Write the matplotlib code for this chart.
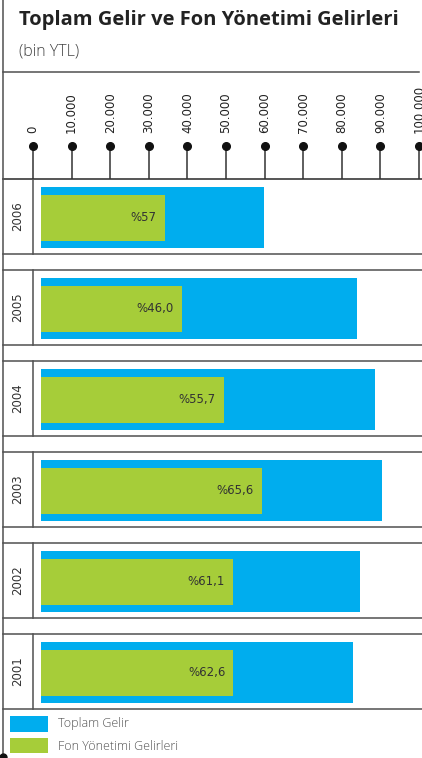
import numpy as np
import matplotlib
matplotlib.use("Agg")
import matplotlib.pyplot as plt
from matplotlib.patches import Rectangle

# data (bin YTL)
years = ["2006", "2005", "2004", "2003", "2002", "2001"]
toplam_gelir = [59800, 83900, 88600, 90400, 84700, 82900]
fon_gelirleri = [34100, 38600, 49400, 59300, 51800, 51900]
pct_labels = ["%57", "%46,0", "%55,7", "%65,6", "%61,1", "%62,6"]
tick_values = [0, 10000, 20000, 30000, 40000, 50000, 60000, 70000, 80000, 90000, 100000]

BLUE = "#00adee"
GREEN = "#a6cd39"
LINE = "#505050"

W, H = 422, 758
fig = plt.figure(figsize=(W / 100, H / 100), dpi=100)

# pixel frame for borders / separators
frame = fig.add_axes([0, 0, 1, 1])
frame.set_xlim(0, W)
frame.set_ylim(H, 0)
frame.axis("off")

def fx(px):
    return px / W

def fy(py):
    return 1 - py / H

# title + subtitle
frame.text(19, 25, "Toplam Gelir ve Fon Yönetimi Gelirleri", fontsize=14.5,
           fontweight="bold", family="Open Sans", color="#222222", va="baseline")
frame.text(19, 55, "(bin YTL)", fontsize=11.5, fontweight="light",
           family="Open Sans", color="#444444", va="baseline")

# outer structure
frame.plot([3, 3], [0, 757], color=LINE, lw=1.1)
frame.plot([3], [757], "o", color="#111111", ms=5)
frame.plot([3, 419], [72, 72], color=LINE, lw=1.1)
frame.plot([3, 422], [179, 179], color=LINE, lw=1.1)

row_top, row_h, period = 179, 75, 91
for i, yr in enumerate(years):
    top = row_top + period * i
    bot = top + row_h
    frame.plot([3, 422], [top, top], color=LINE, lw=1.1)
    frame.plot([3, 422], [bot, bot], color=LINE, lw=1.1)
    frame.plot([33, 33], [top, bot], color=LINE, lw=1.1)
    frame.text(18, (top + bot) / 2, yr, rotation=90, ha="center", va="center",
               fontsize=8.5, color="#333333")

# scale axis at the top
scale = fig.add_axes([fx(33), fy(179), fx(419) - fx(33), fy(72) - fy(179)])
scale.set_xlim(0, 100000)
scale.set_ylim(179, 72)
scale.axis("off")
scale.vlines(tick_values, 146, 179, color="#333333", lw=1.1, clip_on=False)
scale.plot(tick_values, [146] * len(tick_values), "o", color="#111111", ms=5.5,
           clip_on=False)
for t in tick_values:
    lab = f"{t:,}".replace(",", ".")
    scale.text(t, 133, lab, rotation=90, ha="center", va="bottom",
               fontsize=8.5, color="#222222", clip_on=False)

# bars
ax = fig.add_axes([fx(41), fy(708), fx(419) - fx(41), fy(179) - fy(708)])
ax.set_xlim((41 - 33) / 386 * 100000, 100000)
ax.set_ylim(5 + 36.5 / period, -37.5 / period)
ax.axis("off")
ax.patch.set_alpha(0)
ypos = np.arange(len(years)) + 1 / period
ax.barh(ypos, toplam_gelir, height=61 / period, color=BLUE, left=0)
ax.barh(ypos, fon_gelirleri, height=46 / period, color=GREEN, left=0)
for y, v, lab in zip(ypos, fon_gelirleri, pct_labels):
    ax.annotate(lab, (v, y), xytext=(-8, 0), textcoords="offset pixels",
                ha="right", va="center", fontsize=8.5, color="#333333")

# legend
frame.add_patch(Rectangle((10, 716), 38, 16, color=BLUE, lw=0))
frame.add_patch(Rectangle((10, 738), 38, 15, color=GREEN, lw=0))
frame.text(58, 724, "Toplam Gelir", va="center", fontsize=9, fontweight="light",
           family="Open Sans", color="#555555")
frame.text(58, 746, "Fon Yönetimi Gelirleri", va="center", fontsize=9,
           fontweight="light", family="Open Sans", color="#555555")

fig.savefig("out.png", dpi=100)
